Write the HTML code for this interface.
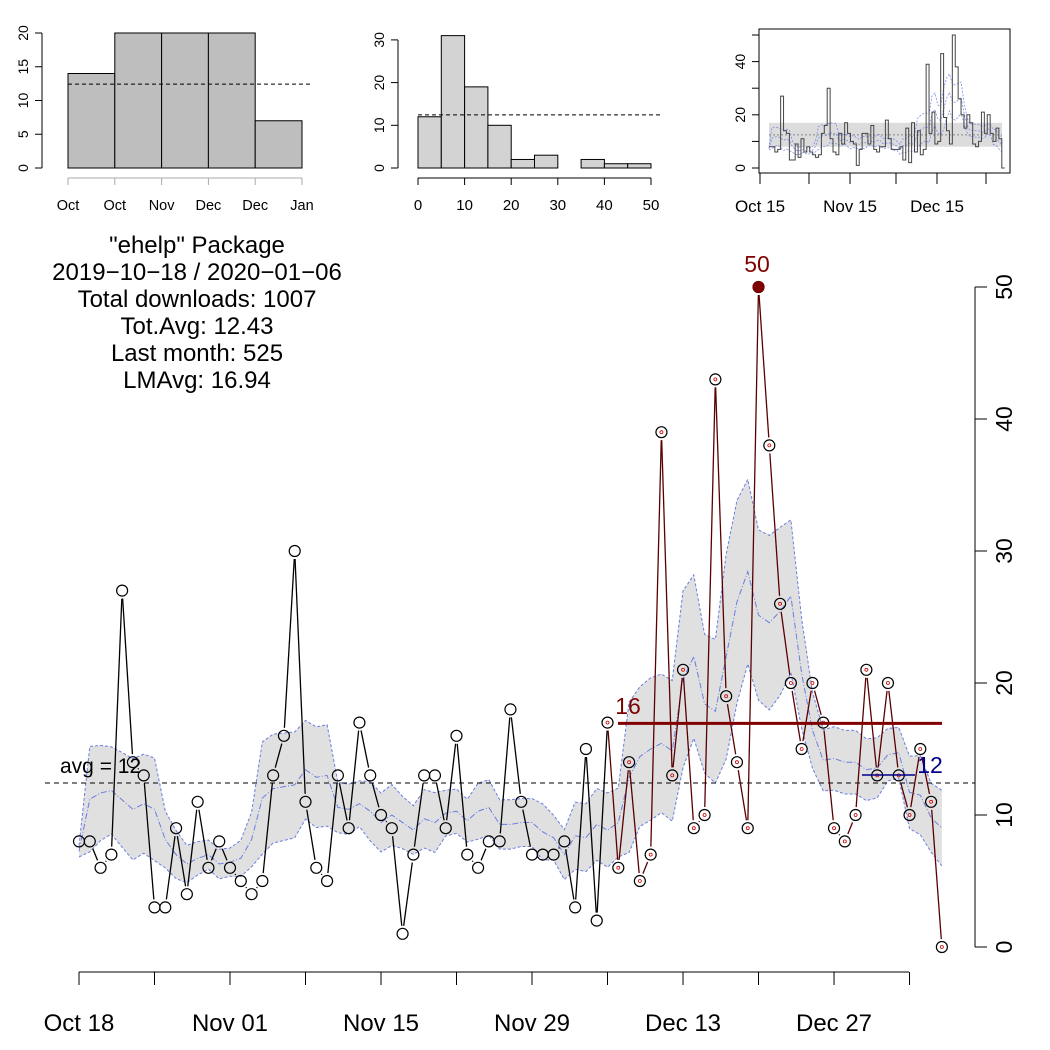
<!DOCTYPE html>
<html><head><meta charset="utf-8"><style>
body{margin:0;background:#fff}
svg{display:block;font-family:"Liberation Sans",sans-serif}
</style></head><body>
<svg id="s" width="1050" height="1050" viewBox="0 0 1050 1050" xmlns="http://www.w3.org/2000/svg"></svg>
<script>
var d=[8,8,6,7,27,14,13,3,3,9,4,11,6,8,6,5,4,5,13,16,30,11,6,5,13,9,17,13,10,9,1,7,13,13,9,16,7,6,8,8,18,11,7,7,7,8,3,15,2,17,6,14,5,7,39,13,21,9,10,43,19,14,9,50,38,26,20,15,20,17,9,8,10,21,13,20,13,10,15,11,0];
var h='';
function X(i){return 79+i*10.786}
function Y(v){return 947-v*13.2}
var m=[],up=[],lo=[];
for(var i=0;i<d.length;i++){var a=Math.max(0,i-3),b=Math.min(d.length-1,i+3),s=0,n=0;for(var j=a;j<=b;j++){s+=d[j];n++}var mu=s/n,v=0;for(j=a;j<=b;j++)v+=(d[j]-mu)*(d[j]-mu);var sd=Math.sqrt(v/(n-1));m.push(mu);up.push(mu+0.45*sd);lo.push(Math.max(0,mu-0.45*sd));}
var pu=up.map(function(v,i){return X(i)+','+Y(v)}).join(' '),pl=lo.map(function(v,i){return X(i)+','+Y(v)}).reverse().join(' ');
h+='<polygon points="'+pu+' '+pl+'" fill="#e0e0e0"/>';
h+='<polyline points="'+pu+'" fill="none" stroke="#6a7ee0" stroke-width="1" stroke-dasharray="3,2"/>';
h+='<polyline points="'+lo.map(function(v,i){return X(i)+','+Y(v)}).join(' ')+'" fill="none" stroke="#6a7ee0" stroke-width="1" stroke-dasharray="3,2"/>';
h+='<polyline points="'+m.map(function(v,i){return X(i)+','+Y(v)}).join(' ')+'" fill="none" stroke="#6a7ee0" stroke-width="1" stroke-dasharray="6,2,1,2"/>';
h+='<line x1="45" x2="975" y1="783" y2="783" stroke="#000" stroke-dasharray="5,4"/>';
h+='<text x="60" y="773" font-size="21">avg = 12</text>';
var R=5.5,G=8;
for(i=0;i<d.length-1;i++){var x1=X(i),y1=Y(d[i]),x2=X(i+1),y2=Y(d[i+1]),dx=x2-x1,dy=y2-y1,L=Math.sqrt(dx*dx+dy*dy);if(L>2*G+1){var ux=dx/L,uy=dy/L;h+='<line x1="'+(x1+ux*G)+'" y1="'+(y1+uy*G)+'" x2="'+(x2-ux*G)+'" y2="'+(y2-uy*G)+'" stroke="'+(i>=49?'#5a0000':'#000')+'" stroke-width="1.3"/>';}}
for(i=0;i<d.length;i++){h+='<circle cx="'+X(i)+'" cy="'+Y(d[i])+'" r="'+R+'" fill="none" stroke="#000" stroke-width="1.2"/>';if(i>=49)h+='<circle cx="'+X(i)+'" cy="'+Y(d[i])+'" r="1.5" fill="none" stroke="#c00" stroke-width="0.8"/>';}
h+='<circle cx="'+X(63)+'" cy="'+Y(50)+'" r="6" fill="#800000"/>';
h+='<text x="757" y="272" font-size="23" fill="#800000" text-anchor="middle">50</text>';
h+='<line x1="618" x2="942" y1="'+Y(16.94)+'" y2="'+Y(16.94)+'" stroke="#800000" stroke-width="3"/>';
h+='<text x="628" y="714" font-size="23" fill="#800000" text-anchor="middle">16</text>';
h+='<line x1="862" x2="915" y1="775" y2="775" stroke="#00008b" stroke-width="1.5"/>';
h+='<text x="930" y="773" font-size="23" fill="#00008b" text-anchor="middle">12</text>';
h+='<line x1="975" x2="975" y1="287" y2="947" stroke="#000"/>';
for(v=0;v<=50;v+=10){var y=Y(v);h+='<line x1="975" x2="987" y1="'+y+'" y2="'+y+'" stroke="#000"/><text transform="translate(1006,'+y+') rotate(-90)" font-size="23" text-anchor="middle" dominant-baseline="middle">'+v+'</text>';}
h+='<line x1="79" x2="909" y1="972" y2="972" stroke="#000"/>';
var lb=['Oct 18','Nov 01','Nov 15','Nov 29','Dec 13','Dec 27'];
for(i=0;i<12;i++){var x=X(i*7);h+='<line x1="'+x+'" x2="'+x+'" y1="972" y2="985" stroke="#000"/>';if(i%2==0)h+='<text x="'+x+'" y="1031" font-size="24" text-anchor="middle">'+lb[i/2]+'</text>';}
var t=['"ehelp" Package','2019\u221210\u221218 / 2020\u221201\u221206','Total downloads: 1007','Tot.Avg: 12.43','Last month: 525','LMAvg: 16.94'];
t.forEach(function(s,k){h+='<text x="197" y="'+(253+k*27)+'" font-size="24" text-anchor="middle">'+s+'</text>'});
var b1=[14,20,20,20,7];function Y1(v){return 168-v*6.75}
b1.forEach(function(v,k){h+='<rect x="'+(68+k*46.8)+'" y="'+Y1(v)+'" width="46.8" height="'+(v*6.75)+'" fill="#bebebe" stroke="#000"/>'});
h+='<line x1="42" x2="42" y1="33" y2="168" stroke="#000"/>';
for(v=0;v<=20;v+=5){h+='<line x1="35" x2="42" y1="'+Y1(v)+'" y2="'+Y1(v)+'" stroke="#000"/><text transform="translate(28,'+Y1(v)+') rotate(-90)" font-size="14" text-anchor="middle">'+v+'</text>';}
h+='<line x1="68" x2="312" y1="'+Y1(12.43)+'" y2="'+Y1(12.43)+'" stroke="#000" stroke-dasharray="4,3"/>';
h+='<line x1="68" x2="302" y1="178" y2="178" stroke="#aaa"/>';
['Oct','Oct','Nov','Dec','Dec','Jan'].forEach(function(s,k){var x=68+k*46.8;h+='<line x1="'+x+'" x2="'+x+'" y1="178" y2="185" stroke="#aaa"/><text x="'+x+'" y="210" font-size="14.5" text-anchor="middle">'+s+'</text>'});
var b2=[12,31,19,10,2,3,0,2,1,1];function Y2(v){return 168-v*4.27}
b2.forEach(function(v,k){if(v)h+='<rect x="'+(418+k*23.3)+'" y="'+Y2(v)+'" width="23.3" height="'+(v*4.27)+'" fill="#d3d3d3" stroke="#000"/>'});
h+='<line x1="398" x2="398" y1="40" y2="168" stroke="#000"/>';
for(v=0;v<=30;v+=10){h+='<line x1="391" x2="398" y1="'+Y2(v)+'" y2="'+Y2(v)+'" stroke="#000"/><text transform="translate(384,'+Y2(v)+') rotate(-90)" font-size="14" text-anchor="middle">'+v+'</text>';}
h+='<line x1="418" x2="662" y1="'+Y2(12.43)+'" y2="'+Y2(12.43)+'" stroke="#000" stroke-dasharray="4,3"/>';
h+='<line x1="418" x2="651" y1="178" y2="178" stroke="#000"/>';
for(v=0;v<=50;v+=10){var x=418+v*4.66;h+='<line x1="'+x+'" x2="'+x+'" y1="178" y2="185" stroke="#000"/><text x="'+x+'" y="210" font-size="15" text-anchor="middle">'+v+'</text>';}
function X3(i){return 769+i*2.91}function Y3(v){return 168-v*2.66}
h+='<rect x="769" y="'+Y3(17)+'" width="233" height="'+(9*2.66)+'" fill="#dcdcdc"/>';
h+='<line x1="769" x2="1002" y1="'+Y3(12.43)+'" y2="'+Y3(12.43)+'" stroke="#888" stroke-dasharray="2,2"/>';
[up,m,lo].forEach(function(a){h+='<polyline points="'+a.map(function(v,i){return X3(i)+','+Y3(v)}).join(' ')+'" fill="none" stroke="#7a8ee8" stroke-width="0.8" stroke-dasharray="2,1.5"/>'});
var st='';for(i=0;i<d.length;i++){st+=X3(i)+','+Y3(d[i])+' '+X3(i+1)+','+Y3(d[i])+' ';}
h+='<polyline points="'+st+'" fill="none" stroke="#444" stroke-width="1"/>';
h+='<rect x="759" y="29" width="251" height="144" fill="none" stroke="#000"/>';
h+='<line x1="759" x2="759" y1="35" y2="168" stroke="#000"/>';
for(v=0;v<=50;v+=10){h+='<line x1="752" x2="759" y1="'+Y3(v)+'" y2="'+Y3(v)+'" stroke="#000"/>';if(v%20==0)h+='<text transform="translate(745,'+Y3(v)+') rotate(-90)" font-size="14" text-anchor="middle">'+v+'</text>';}
h+='<line x1="760" x2="986" y1="173" y2="173" stroke="#000"/>';
[760,809,850,896,937,986].forEach(function(x){h+='<line x1="'+x+'" x2="'+x+'" y1="173" y2="184" stroke="#000"/>'});
h+='<text x="760" y="212" font-size="17" text-anchor="middle">Oct 15</text><text x="850" y="212" font-size="17" text-anchor="middle">Nov 15</text><text x="937" y="212" font-size="17" text-anchor="middle">Dec 15</text>';
document.getElementById('s').innerHTML=h;
</script>
</body></html>
